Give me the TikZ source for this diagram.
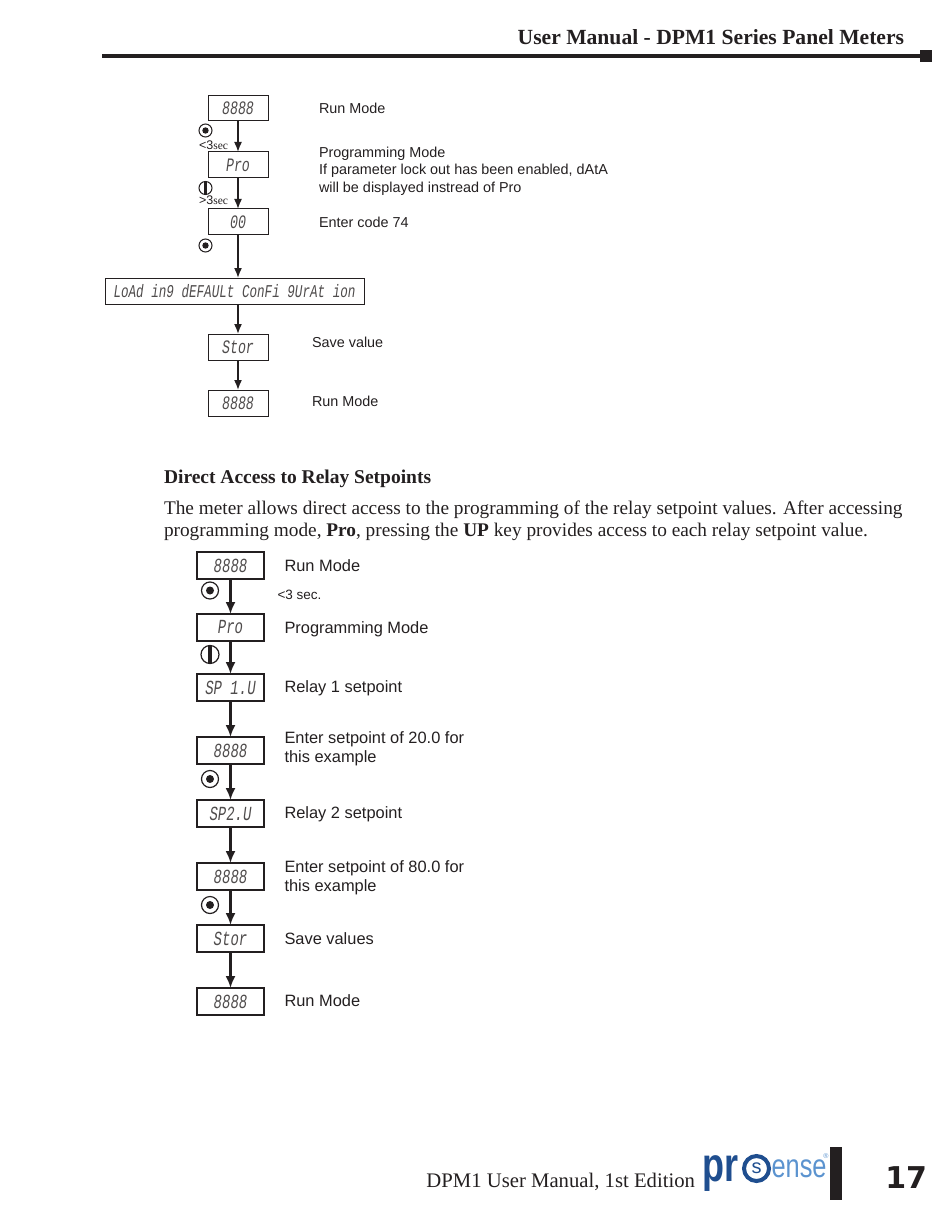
\documentclass[tikz,border=0pt]{standalone}
\usepackage{fontspec}
\setmainfont{Liberation Serif}
\setsansfont{Liberation Sans}
\newfontfamily\segfont{Liberation Mono}[FakeStretch=0.7]
\newfontfamily\numfont{DejaVu Sans}
\newfontfamily\logofont{Liberation Sans}[FakeStretch=0.75]
\newfontfamily\logothin{Liberation Sans}[FakeStretch=0.77]
\usetikzlibrary{arrows.meta,positioning}
\definecolor{inkblack}{HTML}{231F20}
\definecolor{logodark}{HTML}{1F4E8F}
\definecolor{logolight}{HTML}{5B93CF}

\begin{document}
\begin{tikzpicture}[x=1pt,y=-1pt,>=Latex,node distance=31pt and 51pt,outer sep=0pt,
disp/.style={draw=inkblack,line width=1pt,minimum width=60pt,minimum height=26pt,inner sep=0pt,font=\segfont\itshape\fontsize{19}{19}\selectfont,text=inkblack!80},
dispb/.style={disp,line width=1.1pt,minimum width=67pt,minimum height=27pt,font=\segfont\itshape\fontsize{20}{20}\selectfont},
lab/.style={inner sep=0pt,align=left,font=\sffamily\fontsize{14.4}{17.5}\selectfont,text=inkblack},
labb/.style={lab,font=\sffamily\fontsize{16.4}{19.5}\selectfont},
arrow/.style={->,line width=1.6pt,inkblack,>={Latex[length=10pt,width=8pt]}},
arrowb/.style={->,line width=2.1pt,inkblack,>={Latex[length=12pt,width=10pt]}},
enterkey/.style={circle,draw=inkblack,line width=1pt,minimum size=13pt,inner sep=0pt,path picture={\fill[inkblack] (path picture bounding box.center) circle (3.2pt);}},
upkey/.style={circle,draw=inkblack,line width=1pt,minimum size=13pt,inner sep=0pt,path picture={\fill[inkblack] ([xshift=-1.5pt,yshift=-7pt]path picture bounding box.center) rectangle ([xshift=1.5pt,yshift=7pt]path picture bounding box.center);}},
enterkeyb/.style={enterkey,minimum size=17pt,line width=1.2pt,path picture={\fill[inkblack] (path picture bounding box.center) circle (4pt);}},
upkeyb/.style={upkey,minimum size=18pt,line width=1.2pt,path picture={\fill[inkblack] ([xshift=-1.6pt,yshift=-9pt]path picture bounding box.center) rectangle ([xshift=1.6pt,yshift=9pt]path picture bounding box.center);}},
serifline/.style={inner sep=0pt,anchor=base west,text=inkblack,font=\fontsize{19.3}{22}\selectfont},
secs/.style={inner sep=0pt,font=\sffamily\fontsize{12.5}{12.5}\selectfont,text=inkblack}]
\useasboundingbox (0,0) rectangle (950,1206);
% page header
\node[inner sep=0pt,anchor=base east,font=\bfseries\fontsize{21.6}{21.6}\selectfont,text=inkblack] (head) at (904,45) {User Manual - DPM1 Series Panel Meters};
\node[fill=inkblack,minimum size=12pt,inner sep=0pt] (headend) at (926,56) {};
\coordinate (headstart) at (102,56);
\draw[inkblack,line width=4pt] (headstart)--(headend);
% first sequence
\node[disp,minimum height=25pt] (run) at (238,108.5) {8888};
\node[disp,below=of run] (pro) {Pro};
\node[disp,below=of pro] (code) {00};
\node[disp,minimum width=259pt,line width=.7pt,font=\segfont\itshape\fontsize{18}{18}\selectfont,below=43pt of code,xshift=-3.5pt] (load) {LoAd in9 dEFAULt ConFi 9UrAt ion};
\node[disp,below=30pt of code |- load.south] (stor) {Stor};
\node[disp,below=30pt of stor] (end) {8888};
\draw[arrow] (run)--(pro); \draw[arrow] (pro)--(code); \draw[arrow] (code.south)--(code.south |- load.north);
\draw[arrow] (code.south |- load.south)--(stor); \draw[arrow] (stor)--(end);
\node[enterkey,below=3pt of run.south,xshift=-32.5pt] (key1) {};
\node[secs,below=4pt of key1,xshift=8pt] (t1) {<3{\rmfamily\fontsize{11.5}{11.5}\selectfont sec}};
\node[upkey,below=3.5pt of pro.south,xshift=-32.5pt] (key2) {};
\node[secs,below=1pt of key2,xshift=8pt] (t2) {>3{\rmfamily\fontsize{11.5}{11.5}\selectfont sec}};
\node[enterkey,below=4pt of code.south,xshift=-32.5pt] (key3) {};
\node[lab,right=of run] (lrun) {Run Mode};
\node[lab,right=of pro,yshift=-6pt] (lpro) {Programming Mode\\If parameter lock out has been enabled, dAtA\\will be displayed instread of Pro};
\node[lab,right=of code] (lcode) {Enter code 74};
\node[lab,right=44pt of stor,yshift=5pt] (lstor) {Save value};
\node[lab,right=44pt of end,yshift=2pt] (lend) {Run Mode};
% paragraph
\node[serifline,font=\bfseries\fontsize{19.5}{19.5}\selectfont] (title) at (164,483) {Direct Access to Relay Setpoints};
\node[serifline] (para1) at (164,514) {The meter allows direct access to the programming of the relay setpoint values. After accessing};
\node[serifline] (para2) at (164,536) {programming mode, \textbf{Pro}, pressing the \textbf{UP} key provides access to each relay setpoint value.};
% second sequence
\node[dispb] (brun) at (230.5,565.5) {8888};
\node[dispb,below=35pt of brun] (bpro) {Pro};
\node[dispb,below=33pt of bpro] (sp1) {SP 1.U};
\node[dispb,below=36pt of sp1] (val1) {8888};
\node[dispb,below=36pt of val1] (sp2) {SP2.U};
\node[dispb,below=36pt of sp2] (val2) {8888};
\node[dispb,below=35pt of val2] (bstor) {Stor};
\node[dispb,below=36pt of bstor] (bend) {8888};
\draw[arrowb] (brun)--(bpro); \draw[arrowb] (bpro)--(sp1); \draw[arrowb] (sp1)--(val1); \draw[arrowb] (val1)--(sp2);
\draw[arrowb] (sp2)--(val2); \draw[arrowb] (val2)--(bstor); \draw[arrowb] (bstor)--(bend);
\node[enterkeyb,below=3pt of brun.south,xshift=-20.5pt] (bkey1) {};
\node[upkeyb,below=4.5pt of bpro.south,xshift=-20.5pt] (bkey2) {};
\node[enterkeyb,below=6.5pt of val1.south,xshift=-20.5pt] (bkey3) {};
\node[enterkeyb,below=6.5pt of val2.south,xshift=-20.5pt] (bkey4) {};
\node[labb,right=20.5pt of brun] (lbrun) {Run Mode};
\node[secs,font=\sffamily\fontsize{13.5}{13.5}\selectfont,below=23pt of lbrun.south west,anchor=west,xshift=-7pt] (bt1) {<3 sec.};
\node[labb,right=20.5pt of bpro,yshift=-2pt] (lbpro) {Programming Mode};
\node[labb,right=20.5pt of sp1,yshift=-1pt] (lsp1) {Relay 1 setpoint};
\node[labb,right=20.5pt of val1,yshift=1.5pt] (lval1) {Enter setpoint of 20.0 for\\this example};
\node[labb,right=20.5pt of sp2,yshift=-1pt] (lsp2) {Relay 2 setpoint};
\node[labb,right=20.5pt of val2,yshift=-1pt] (lval2) {Enter setpoint of 80.0 for\\this example};
\node[labb,right=20.5pt of bstor] (lbstor) {Save values};
\node[labb,right=20.5pt of bend,yshift=1pt] (lbend) {Run Mode};
% page footer
\node[inner sep=0pt,anchor=base east,font=\fontsize{20.7}{20.7}\selectfont,text=inkblack] (foot) at (695,1187) {DPM1 User Manual, 1st Edition};
\node[inner sep=0pt,anchor=base west,text=logodark,font=\logofont\bfseries\fontsize{48}{48}\selectfont] (logopr) at (702,1181) {pr};
\node[circle,draw=logodark,line width=4pt,minimum size=25pt,inner sep=0pt,text=logodark,font=\sffamily\fontsize{20}{20}\selectfont] (logos) at (756.5,1168.5) {s};
\node[inner sep=0pt,anchor=base west,text=logolight,font=\logothin\fontsize{33}{33}\selectfont] (logoe) at (771.5,1177) {ense};
\node[inner sep=0pt,text=logolight,font=\sffamily\fontsize{7}{7}\selectfont] (logor) at (826,1156) {®};
\node[fill=inkblack,minimum width=12pt,minimum height=53pt,inner sep=0pt] (bar) at (836,1173.5) {};
\node[inner sep=0pt,anchor=base east,text=inkblack,font=\numfont\bfseries\fontsize{30}{30}\selectfont] (pagenum) at (927,1188) {17};
\end{tikzpicture}
\end{document}
